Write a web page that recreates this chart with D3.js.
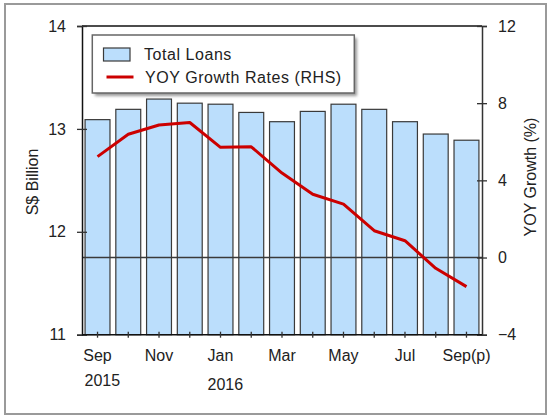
<!DOCTYPE html>
<html>
<head>
<meta charset="utf-8">
<script src="https://cdn.jsdelivr.net/npm/d3@7"></script>
<style>
  body { margin: 0; background: #fff; }
  svg text { font-family: "Liberation Sans", Arial, sans-serif; fill: #222; }
</style>
</head>
<body>
<svg id="chart" width="549" height="416"></svg>
<script>
// 数据
var months = ["Sep", "Oct", "Nov", "Dec", "Jan", "Feb", "Mar", "Apr", "May", "Jun", "Jul", "Aug", "Sep(p)"];
var yearLabels = [{ idx: 0, text: "2015" }, { idx: 4, text: "2016" }];
var totalLoans = [13.09, 13.19, 13.29, 13.25, 13.24, 13.16, 13.07, 13.17, 13.24, 13.19, 13.07, 12.95, 12.89];
var yoyGrowth = [5.23, 6.39, 6.87, 7.0, 5.71, 5.74, 4.38, 3.28, 2.77, 1.39, 0.87, -0.56, -1.51];
var leftTicks = [11, 12, 13, 14];
var rightTicks = [-4, 0, 4, 8, 12];

var svg = d3.select("#chart");
var plotLeft = 82, plotRight = 482, plotTop = 26, plotBottom = 334.7;
var colors = {
  bar: "#bbdefc",
  bar_stroke: "#3a3a3a",
  line: "#cc0000",
  frame: "#9a9a9a"
};

// 外框
svg.append("rect")
  .attr("x", 5).attr("y", 4).attr("width", 541).attr("height", 410)
  .attr("fill", "none").attr("stroke", colors.frame).attr("stroke-width", 2);

var x = d3.scaleBand().domain(months).range([plotLeft, plotRight]).paddingInner(0.19).paddingOuter(0.1);
var yL = d3.scaleLinear().domain([11, 14]).range([plotBottom, plotTop]);
var yR = d3.scaleLinear().domain([-4, 12]).range([plotBottom, plotTop]);

// 柱子
svg.append("g")
  .selectAll("rect")
  .data(totalLoans)
  .enter()
  .append("rect")
    .attr("x", function(d, i) { return x(months[i]); })
    .attr("y", function(d) { return yL(d); })
    .attr("width", x.bandwidth())
    .attr("height", function(d) { return plotBottom - yL(d); })
    .attr("fill", colors.bar)
    .attr("stroke", colors.bar_stroke)
    .attr("stroke-width", 1.2);

// 零线
svg.append("line")
  .attr("x1", plotLeft).attr("x2", plotRight)
  .attr("y1", yR(0)).attr("y2", yR(0))
  .attr("stroke", "#3a3a3a").attr("stroke-width", 1.6);

// 顶部边线
svg.append("line")
  .attr("x1", plotLeft).attr("x2", plotRight).attr("y1", plotTop).attr("y2", plotTop)
  .attr("stroke", "#111").attr("stroke-width", 1.5);

// 左轴
var gL = svg.append("g")
  .attr("transform", "translate(" + plotLeft + ",0)")
  .call(d3.axisLeft(yL).tickValues(leftTicks).tickSize(5).tickPadding(11).tickFormat(d3.format("d")));
gL.select(".domain").attr("stroke", "#111").attr("stroke-width", 1.5);
gL.selectAll(".tick line").attr("x1", 5).attr("stroke", "#333").attr("stroke-width", 1.3);
gL.selectAll("text").style("font-size", "16px").attr("fill", "#222");

// 右轴
var gR = svg.append("g")
  .attr("transform", "translate(" + plotRight + ",0)")
  .call(d3.axisRight(yR).tickValues(rightTicks).tickSize(5).tickPadding(11).tickFormat(d3.format("d")));
gR.select(".domain").attr("stroke", "#333").attr("stroke-width", 1.5);
gR.selectAll(".tick line").attr("x1", -5).attr("stroke", "#333").attr("stroke-width", 1.3);
gR.selectAll("text").style("font-size", "16px").attr("fill", "#222");

// 底轴
var gB = svg.append("g")
  .attr("transform", "translate(0," + plotBottom + ")")
  .call(d3.axisBottom(x).tickSize(3).tickFormat(""));
gB.select(".domain").attr("d", "M" + plotLeft + ",0H" + plotRight).attr("stroke", "#111").attr("stroke-width", 1.5);
gB.selectAll(".tick line").attr("y1", -3).attr("stroke", "#333").attr("stroke-width", 1.3);

svg.append("g")
  .selectAll("text")
  .data(months.filter(function(m, i) { return i % 2 === 0; }))
  .enter()
  .append("text")
    .attr("x", function(m) { return x(m) + x.bandwidth() / 2; })
    .attr("y", 361)
    .attr("text-anchor", "middle")
    .style("font-size", "16px")
    .text(function(m) { return m; });

svg.append("g")
  .selectAll("text")
  .data(yearLabels)
  .enter()
  .append("text")
    .attr("x", function(d) { return x(months[d.idx]) + x.bandwidth() / 2 - 13; })
    .attr("y", function(d, i) { return i === 0 ? 386 : 390; })
    .style("font-size", "16px")
    .text(function(d) { return d.text; });

// 折线
var line = d3.line()
  .x(function(d, i) { return x(months[i]) + x.bandwidth() / 2; })
  .y(function(d) { return yR(d); });
svg.append("path")
  .datum(yoyGrowth)
  .attr("d", line)
  .attr("fill", "none")
  .attr("stroke", colors.line)
  .attr("stroke-width", 3)
  .attr("stroke-linejoin", "round");

// 轴标题
svg.append("text")
  .attr("transform", "translate(38,182) rotate(-90)")
  .attr("text-anchor", "middle")
  .style("font-size", "16px")
  .text("S$ Billion");
svg.append("text")
  .attr("transform", "translate(536,177) rotate(-90)")
  .attr("text-anchor", "middle")
  .style("font-size", "16px")
  .text("YOY Growth (%)");

// 图例
var defs = svg.append("defs");
defs.append("filter").attr("id", "shadow")
  .append("feGaussianBlur").attr("stdDeviation", 1.5);
svg.append("rect")
  .attr("x", 95).attr("y", 38).attr("width", 262).attr("height", 58)
  .attr("fill", "#999").attr("filter", "url(#shadow)");
svg.append("rect")
  .attr("x", 92.3).attr("y", 35).attr("width", 262).attr("height", 58)
  .attr("fill", "#fff").attr("stroke", "#666").attr("stroke-width", 1.5);
svg.append("rect")
  .attr("x", 103.5).attr("y", 48).attr("width", 26.5).attr("height", 13)
  .attr("fill", colors.bar).attr("stroke", colors.bar_stroke).attr("stroke-width", 1.2);
svg.append("text").attr("x", 144).attr("y", 60)
  .style("font-size", "16px").style("letter-spacing", "0.55px").text("Total Loans");
svg.append("line")
  .attr("x1", 106.5).attr("x2", 133.5).attr("y1", 77).attr("y2", 77)
  .attr("stroke", colors.line).attr("stroke-width", 3);
svg.append("text").attr("x", 145).attr("y", 83)
  .style("font-size", "16px").style("letter-spacing", "0.55px").text("YOY Growth Rates (RHS)");
</script>
</body>
</html>
